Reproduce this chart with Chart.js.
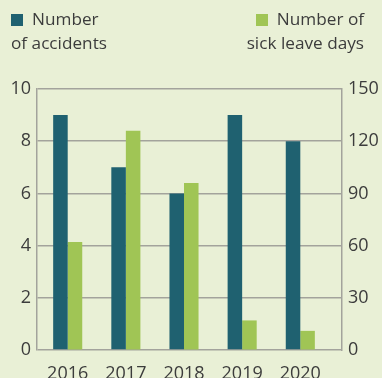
<!DOCTYPE html>
<html>
<head>
<meta charset="utf-8">
<script src="https://cdn.jsdelivr.net/npm/chart.js@4/dist/chart.umd.min.js"></script>
<style>
  html, body { margin: 0; padding: 0; background: #e9f0d6; }
  #wrap { width: 382px; height: 378px; position: relative; }
</style>
</head>
<body>
<div id="wrap"><canvas id="c" width="382" height="378"></canvas></div>
<script>
// Yearly occupational safety figures
const years = ['2016', '2017', '2018', '2019', '2020'];
const accidents = [9, 7, 6, 9, 8];
const sickLeaveDays = [62, 126, 96, 17, 11];
const accidentTicks = [0, 2, 4, 6, 8, 10];
const sickLeaveTicks = [0, 30, 60, 90, 120, 150];

const TEAL = '#1f6170';
const GREEN = '#a0c555';
const TEXT = '#3c3c3c';
const LINE = '#a3a39c';
const FONT = '"Open Sans", Lato, sans-serif';

// Two-line legend entries drawn above the plot
const legendPlugin = {
  id: 'twoLineLegend',
  afterDraw(chart) {
    const ctx = chart.ctx;
    ctx.save();
    ctx.font = '17.2px ' + FONT;
    ctx.textBaseline = 'middle';
    // left entry
    ctx.fillStyle = TEAL;
    ctx.fillRect(11, 14, 12, 12);
    ctx.fillStyle = TEXT;
    ctx.textAlign = 'left';
    ctx.fillText('Number', 32, 20);
    ctx.fillText('of accidents', 11, 44);
    // right entry
    ctx.fillStyle = GREEN;
    ctx.fillRect(256, 14, 12, 12);
    ctx.fillStyle = TEXT;
    ctx.textAlign = 'right';
    ctx.fillText('Number of', 364, 20);
    ctx.fillText('sick leave days', 364, 44);
    ctx.restore();
  }
};

new Chart(document.getElementById('c'), {
  type: 'bar',
  data: {
    datasets: [
      {
        label: 'Number of accidents',
        data: accidents.map((v, i) => ({ x: i, y: v })),
        backgroundColor: TEAL,
        yAxisID: 'y',
        barPercentage: 1,
        categoryPercentage: 0.5
      },
      {
        label: 'Number of sick leave days',
        data: sickLeaveDays.map((v, i) => ({ x: i, y: v })),
        backgroundColor: GREEN,
        yAxisID: 'y1',
        barPercentage: 1,
        categoryPercentage: 0.5
      }
    ]
  },
  options: {
    responsive: false,
    animation: false,
    layout: { padding: { top: 89, left: 0, right: 0, bottom: 0 } },
    plugins: { legend: { display: false }, tooltip: { enabled: false } },
    scales: {
      x: {
        type: 'linear',
        offset: false,
        min: -0.528,
        max: 4.717,
        grid: { display: false, offset: false },
        border: { display: false },
        afterBuildTicks(scale) { scale.ticks = years.map((_, i) => ({ value: i })); },
        afterFit(scale) { scale.height = 28; },
        ticks: {
          padding: 5,
          color: TEXT,
          font: { family: FONT, size: 18 },
          maxRotation: 0,
          autoSkip: false,
          callback: (v) => years[v] ?? ''
        }
      },
      y: {
        position: 'left',
        min: 0,
        max: 10,
        afterBuildTicks(scale) { scale.ticks = accidentTicks.map(v => ({ value: v })); },
        afterFit(scale) { scale.width = 37; },
        grid: { color: LINE, lineWidth: 1.5, drawTicks: false },
        border: { color: LINE, width: 1.5 },
        ticks: { padding: 6, color: TEXT, font: { family: FONT, size: 18 } }
      },
      y1: {
        position: 'right',
        min: 0,
        max: 150,
        afterBuildTicks(scale) { scale.ticks = sickLeaveTicks.map(v => ({ value: v })); },
        afterFit(scale) { scale.width = 40; },
        grid: { drawOnChartArea: false, drawTicks: false },
        border: { color: LINE, width: 1.5 },
        ticks: { padding: 6, color: TEXT, font: { family: FONT, size: 18 } }
      }
    }
  },
  plugins: [legendPlugin]
});
</script>
</body>
</html>
